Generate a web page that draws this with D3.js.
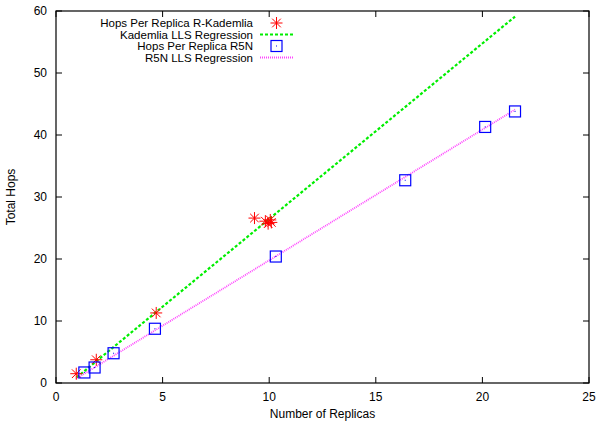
<!DOCTYPE html>
<html>
<head>
<meta charset="utf-8">
<script src="https://cdn.jsdelivr.net/npm/d3@7"></script>
<style>
  body { margin: 0; background: #fff; }
  svg { font-family: "Liberation Sans", Arial, sans-serif; }
</style>
</head>
<body>
<div id="chart"></div>
<script>
// values
var kadX = [0.95, 1.89, 4.70, 9.31, 9.82, 9.95, 10.05, 10.1];
var kadY = [1.5, 3.75, 11.3, 26.6, 26.1, 25.7, 26.3, 25.9];
var r5nX = [1.33, 1.81, 2.70, 4.64, 10.31, 16.38, 20.13, 21.53];
var r5nY = [1.7, 2.5, 4.8, 8.75, 20.4, 32.7, 41.3, 43.8];
var kadFitX = [0.97, 21.53];
var kadFitY = [0.9, 59.1];
var r5nFitX = [0.95, 21.53];
var r5nFitY = [0.7, 44.1];
var xTicks = [0, 5, 10, 15, 20, 25];
var yTicks = [0, 10, 20, 30, 40, 50, 60];
var legendLabels = ["Hops Per Replica R-Kademlia", "Kademlia LLS Regression", "Hops Per Replica R5N", "R5N LLS Regression"];

var width = 597, height = 424;
var mLeft = 56, mRight = 589, mTop = 11, mBottom = 383;

var x = d3.scaleLinear().domain([0, 25]).range([mLeft, mRight]);
var y = d3.scaleLinear().domain([0, 60]).range([mBottom, mTop]);

var svg = d3.select("#chart").append("svg")
    .attr("width", width)
    .attr("height", height);

function pts(xs, ys) {
    return xs.map(function(v, i) { return [v, ys[i]]; });
}

// frame
svg.append("rect")
    .attr("x", mLeft).attr("y", mTop)
    .attr("width", mRight - mLeft).attr("height", mBottom - mTop)
    .attr("fill", "none").attr("stroke", "#000").attr("stroke-width", 1.2);

// ticks (inward, mirrored)
var tickLen = 6;
xTicks.forEach(function(t) {
    var px = x(t);
    svg.append("line").attr("x1", px).attr("x2", px).attr("y1", mBottom).attr("y2", mBottom - tickLen)
        .attr("stroke", "#000");
    svg.append("line").attr("x1", px).attr("x2", px).attr("y1", mTop).attr("y2", mTop + tickLen)
        .attr("stroke", "#000");
    svg.append("text").attr("x", px).attr("y", mBottom + 18)
        .attr("text-anchor", "middle").attr("font-size", 12).text(t);
});
yTicks.forEach(function(t) {
    var py = y(t);
    svg.append("line").attr("x1", mLeft).attr("x2", mLeft + tickLen).attr("y1", py).attr("y2", py)
        .attr("stroke", "#000");
    svg.append("line").attr("x1", mRight).attr("x2", mRight - tickLen).attr("y1", py).attr("y2", py)
        .attr("stroke", "#000");
    svg.append("text").attr("x", mLeft - 9).attr("y", py + 4)
        .attr("text-anchor", "end").attr("font-size", 12).text(t);
});

// axis titles
svg.append("text").attr("x", (mLeft + mRight) / 2).attr("y", 418)
    .attr("text-anchor", "middle").attr("font-size", 12).text("Number of Replicas");
svg.append("text")
    .attr("transform", "translate(15," + ((mTop + mBottom) / 2) + ") rotate(-90)")
    .attr("text-anchor", "middle").attr("font-size", 12).text("Total Hops");

var line = d3.line().x(function(d) { return x(d[0]); }).y(function(d) { return y(d[1]); });

// regression lines
svg.append("path").datum(pts(kadFitX, kadFitY)).attr("d", line)
    .attr("fill", "none").attr("stroke", "#00ee00").attr("stroke-width", 2.2)
    .attr("stroke-dasharray", "3,2");
svg.append("path").datum(pts(r5nFitX, r5nFitY)).attr("d", line)
    .attr("fill", "none").attr("stroke", "#ff44ff").attr("stroke-width", 1.8)
    .attr("stroke-dasharray", "1,1");

// markers
function star(g, cx, cy, s) {
    var a = s / 2, b = a * 0.72;
    var st = g.append("g").attr("stroke", "#ff0000").attr("stroke-width", 1);
    st.append("line").attr("x1", cx - a).attr("x2", cx + a).attr("y1", cy).attr("y2", cy);
    st.append("line").attr("x1", cx).attr("x2", cx).attr("y1", cy - a).attr("y2", cy + a);
    st.append("line").attr("x1", cx - b).attr("x2", cx + b).attr("y1", cy - b).attr("y2", cy + b);
    st.append("line").attr("x1", cx - b).attr("x2", cx + b).attr("y1", cy + b).attr("y2", cy - b);
}
function square(g, cx, cy, s) {
    g.append("rect").attr("x", cx - s / 2).attr("y", cy - s / 2)
        .attr("width", s).attr("height", s)
        .attr("fill", "none").attr("stroke", "#0000ff").attr("stroke-width", 1.2);
    g.append("rect").attr("x", cx - 0.5).attr("y", cy - 0.5).attr("width", 1).attr("height", 1)
        .attr("fill", "#0000ff");
}

var marks = svg.append("g");
pts(kadX, kadY).forEach(function(d) { star(marks, x(d[0]), y(d[1]), 12); });
pts(r5nX, r5nY).forEach(function(d) { square(marks, x(d[0]), y(d[1]), 11); });

// legend
var legY = [23, 34.5, 46, 57.5];
var legText = 253, legX1 = 260, legX2 = 293, legMid = 276.5;
legendLabels.forEach(function(l, i) {
    svg.append("text").attr("x", legText).attr("y", legY[i] + 4)
        .attr("text-anchor", "end").attr("font-size", 11.5).text(l);
});
star(svg, legMid, legY[0], 12);
svg.append("line").attr("x1", legX1).attr("x2", legX2).attr("y1", legY[1]).attr("y2", legY[1])
    .attr("stroke", "#00ee00").attr("stroke-width", 2.2).attr("stroke-dasharray", "3,2");
square(svg, legMid, legY[2], 11);
svg.append("line").attr("x1", legX1).attr("x2", legX2).attr("y1", legY[3]).attr("y2", legY[3])
    .attr("stroke", "#ff44ff").attr("stroke-width", 1.8).attr("stroke-dasharray", "1,1");
</script>
</body>
</html>
